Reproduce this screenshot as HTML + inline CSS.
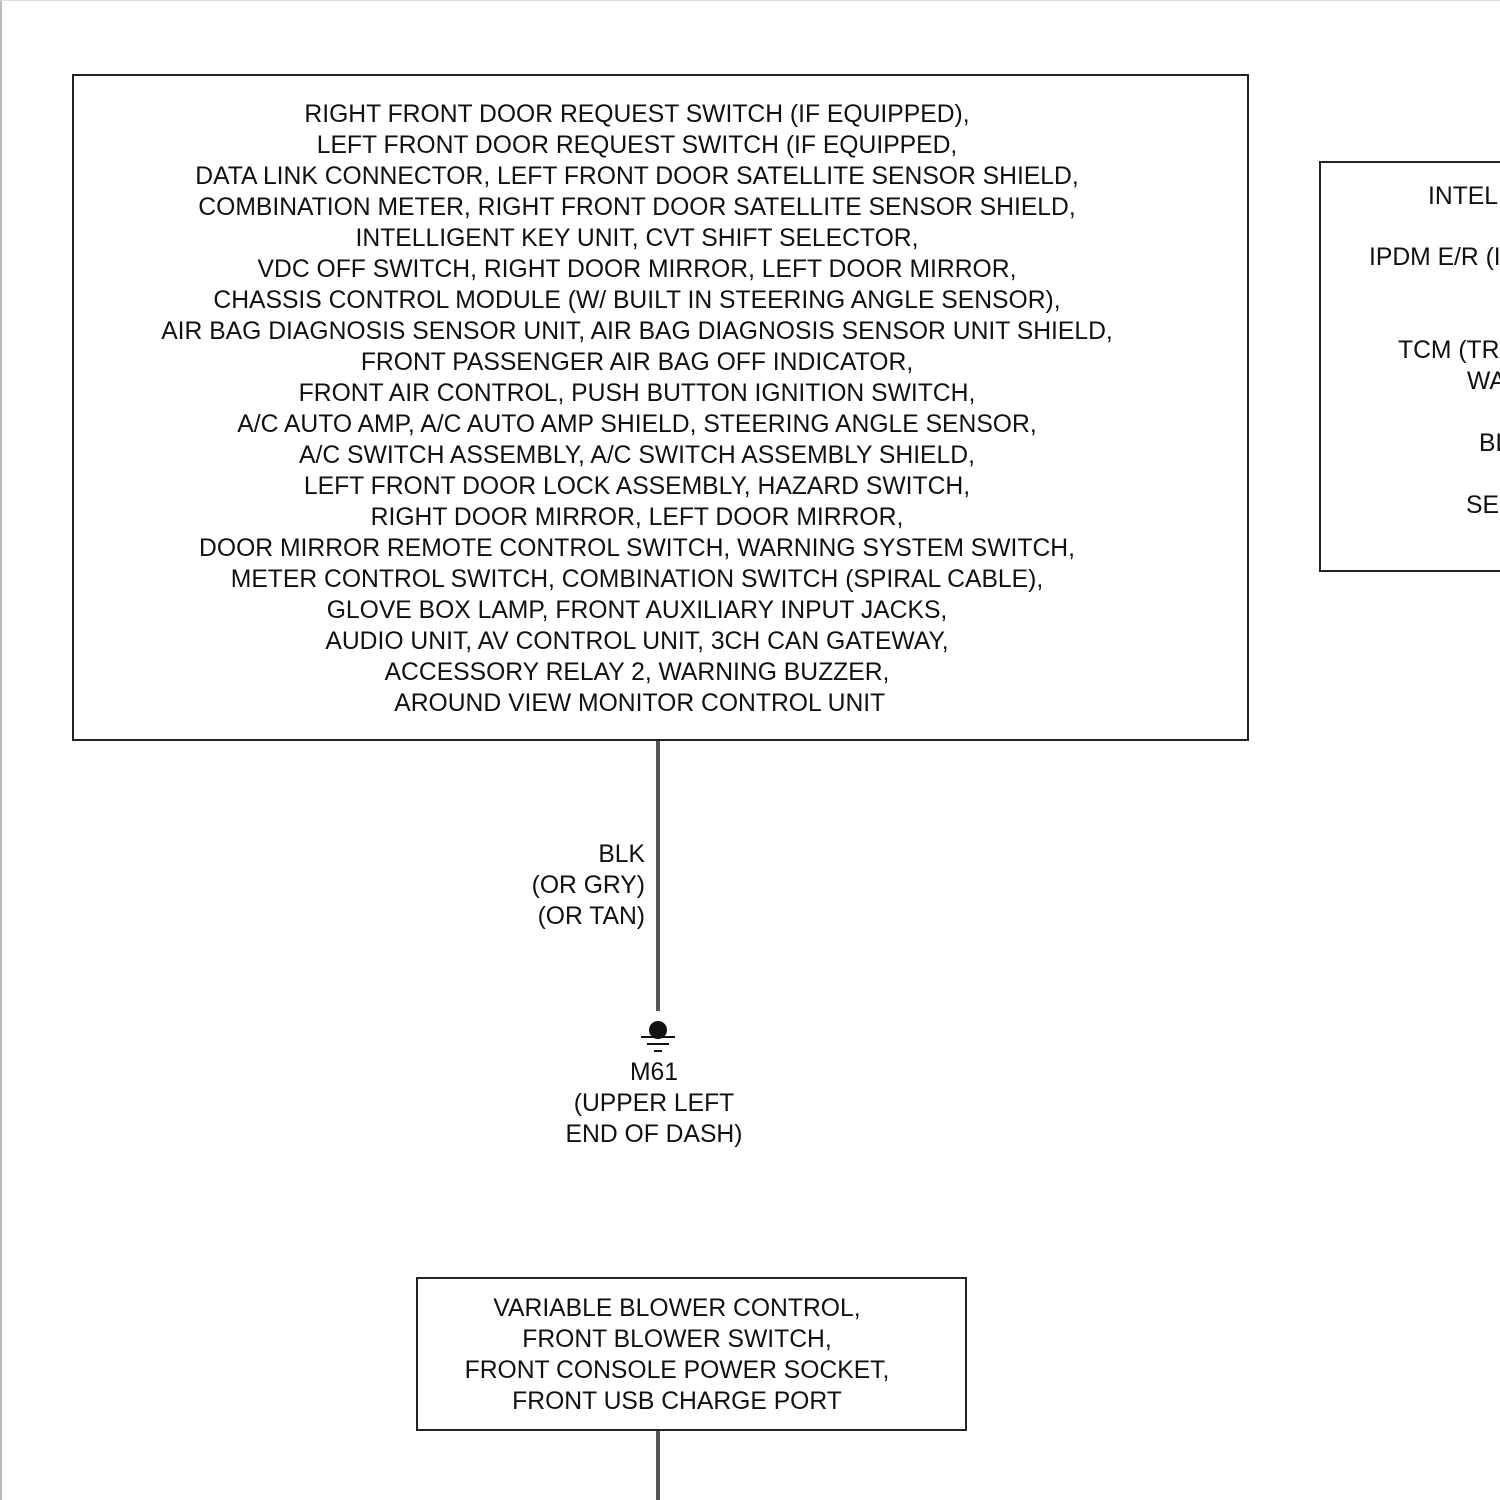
<!DOCTYPE html>
<html><head><style>
html,body{margin:0;width:1500px;height:1500px;overflow:hidden}
body{background:#fff;position:relative;font-family:"Liberation Sans",Arial,sans-serif;color:#111}
#c{position:absolute;left:0;top:0;width:1500px;height:1500px;overflow:hidden}
.box{position:absolute;border:2px solid #222;box-sizing:border-box}
.t{position:absolute;font-size:24.7px;line-height:31px;white-space:pre;text-align:center}
.l{position:absolute;font-size:24.7px;white-space:pre;line-height:31px}
.v{position:absolute;background:#555;width:4px}
</style></head><body><div id="c">
<div style="position:absolute;left:0;top:0;width:2px;height:1500px;background:#bbb"></div>
<div style="position:absolute;left:0;top:0;width:1500px;height:1px;background:#ddd"></div>
<div class="box" style="left:72px;top:74px;width:1177px;height:667px"></div>
<div class="t" style="left:137px;width:1000px;top:99px">RIGHT FRONT DOOR REQUEST SWITCH (IF EQUIPPED),
LEFT FRONT DOOR REQUEST SWITCH (IF EQUIPPED,
DATA LINK CONNECTOR, LEFT FRONT DOOR SATELLITE SENSOR SHIELD,
COMBINATION METER, RIGHT FRONT DOOR SATELLITE SENSOR SHIELD,
INTELLIGENT KEY UNIT, CVT SHIFT SELECTOR,
VDC OFF SWITCH, RIGHT DOOR MIRROR, LEFT DOOR MIRROR,
CHASSIS CONTROL MODULE (W/ BUILT IN STEERING ANGLE SENSOR),
AIR BAG DIAGNOSIS SENSOR UNIT, AIR BAG DIAGNOSIS SENSOR UNIT SHIELD,
FRONT PASSENGER AIR BAG OFF INDICATOR,
FRONT AIR CONTROL, PUSH BUTTON IGNITION SWITCH,
A/C AUTO AMP, A/C AUTO AMP SHIELD, STEERING ANGLE SENSOR,
A/C SWITCH ASSEMBLY, A/C SWITCH ASSEMBLY SHIELD,
LEFT FRONT DOOR LOCK ASSEMBLY, HAZARD SWITCH,
RIGHT DOOR MIRROR, LEFT DOOR MIRROR,
DOOR MIRROR REMOTE CONTROL SWITCH, WARNING SYSTEM SWITCH,
METER CONTROL SWITCH, COMBINATION SWITCH (SPIRAL CABLE),
GLOVE BOX LAMP, FRONT AUXILIARY INPUT JACKS,
AUDIO UNIT, AV CONTROL UNIT, 3CH CAN GATEWAY,
ACCESSORY RELAY 2, WARNING BUZZER,
 AROUND VIEW MONITOR CONTROL UNIT</div>
<div style="position:absolute;left:1319px;top:161px;width:181px;height:411px;border:2px solid #222;border-right:none;box-sizing:border-box;overflow:hidden">
<div class="l" style="left:107px;top:18px">INTELLI</div>
<div class="l" style="left:48px;top:79px">IPDM E/R (IN</div>
<div class="l" style="left:77px;top:172px">TCM (TRAN</div>
<div class="l" style="left:146px;top:203px">WAR</div>
<div class="l" style="left:158px;top:265px">BLO</div>
<div class="l" style="left:145px;top:327px">SEN</div>
</div>
<div class="v" style="left:656px;top:741px;height:270px"></div>
<div class="l" style="left:445px;width:200px;text-align:right;top:839px">BLK
(OR GRY)
(OR TAN)</div>
<div style="position:absolute;left:649px;top:1021px;width:18px;height:18px;border-radius:50%;background:#111"></div>
<div style="position:absolute;left:641px;top:1036px;width:34px;height:2px;background:#111"></div>
<div style="position:absolute;left:647px;top:1043px;width:22px;height:2px;background:#111"></div>
<div style="position:absolute;left:654px;top:1050px;width:8px;height:2px;background:#111"></div>
<div class="t" style="left:554px;width:200px;top:1057px">M61
(UPPER LEFT
END OF DASH)</div>
<div class="box" style="left:416px;top:1277px;width:551px;height:154px"></div>
<div class="t" style="left:427px;width:500px;top:1293px">VARIABLE BLOWER CONTROL,
FRONT BLOWER SWITCH,
FRONT CONSOLE POWER SOCKET,
FRONT USB CHARGE PORT</div>
<div class="v" style="left:656px;top:1431px;height:69px"></div>
</div></body></html>
